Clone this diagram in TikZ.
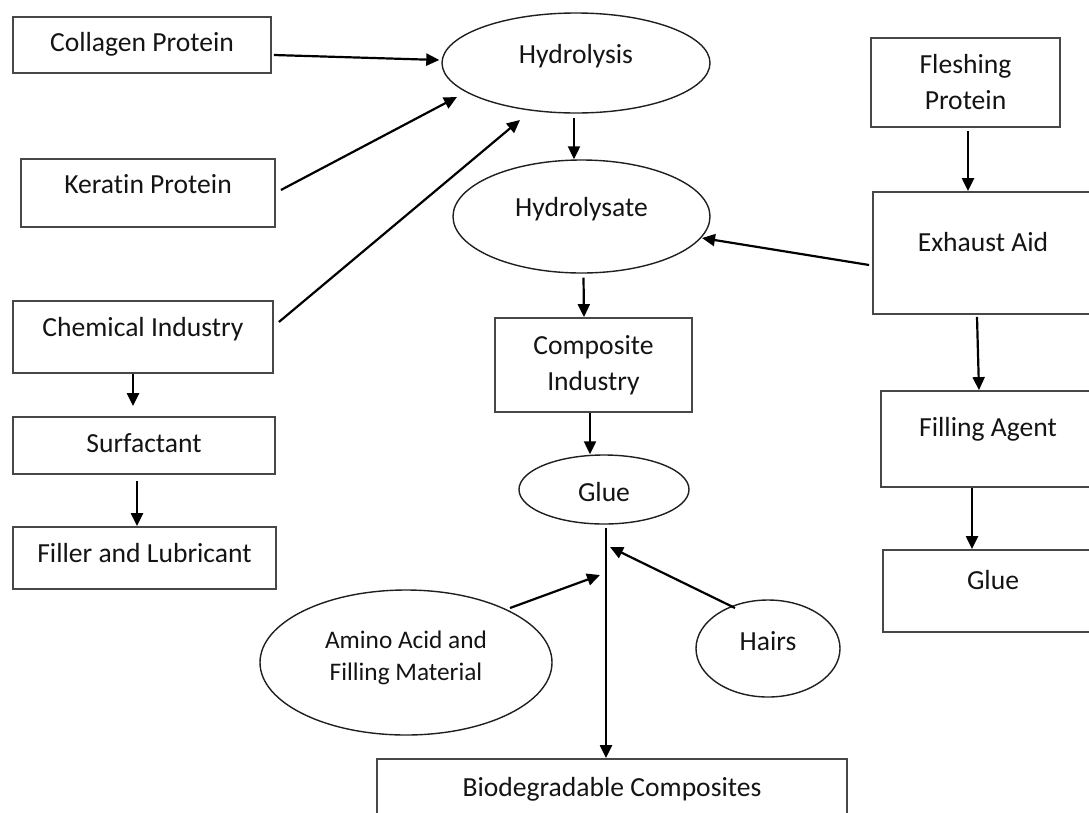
\documentclass[tikz,border=0pt]{standalone}
\usepackage{fontspec}
\setmainfont{Carlito}[Ligatures=NoCommon]
\usetikzlibrary{arrows.meta,calc,shapes.geometric}
\begin{document}
\begin{tikzpicture}[x=1pt,y=-1pt,
  every node/.style={font=\fontsize{27.6}{36}\selectfont, text=black!92, inner sep=0pt},
  box/.style={draw=black!72, line width=1.8pt, rectangle},
  oval/.style={draw=black!88, line width=1.4pt, ellipse},
  conn/.style={line width=2.2pt, draw=black, -{Triangle[length=13pt,width=12pt]}},
  tx/.style 2 args={text height=#1, text depth=#2},
]
\useasboundingbox (0,0) rectangle (1089,812);
\clip (0,0) rectangle (1089,812);

% left column
\node[box, minimum width=258, minimum height=56, tx={19pt}{6pt}] (col) at (142,45) {Collagen Protein};
\node[box, minimum width=254, minimum height=68, tx={19pt}{18pt}] (ker) at (148,193) {Keratin Protein};
\node[box, minimum width=260, minimum height=72, tx={19pt}{20pt}] (chem) at (143,337) {Chemical Industry};
\node[box, minimum width=262, minimum height=57, tx={19pt}{6pt}] (surf) at (144,445.5) {Surfactant};
\node[box, minimum width=263, minimum height=62, tx={19pt}{10pt}] (fill) at (144.5,558) {Filler and Lubricant};

% middle column
\node[oval, minimum width=268, minimum height=100, tx={19pt}{18pt}] (hyd) at (576,63) {Hydrolysis};
\node[oval, minimum width=257, minimum height=113, tx={19pt}{20pt}] (hydt) at (581.5,216.5) {Hydrolysate};
\node[box, minimum width=197, minimum height=94, align=center] (comp) at (593.5,365) {Composite\\Industry};
\node[oval, minimum width=170, minimum height=69, tx={29pt}{6pt}] (glue) at (604,489.5) {Glue};
\node[oval, minimum width=292, minimum height=145, font=\fontsize{25.3}{32}\selectfont] (amino) at (406,662.5)
  {\raisebox{4pt}[\height][\depth]{\begin{tabular}{@{}c@{}}Amino Acid and\\Filling Material\end{tabular}}};
\node[oval, minimum width=144, minimum height=97, tx={19pt}{16pt}] (hairs) at (768,648.5) {Hairs};
\node[box, minimum width=470, minimum height=64, tx={19pt}{8pt}] (bio) at (612,791) {Biodegradable Composites};

% right column
\node[box, minimum width=189, minimum height=89, align=center] (flesh) at (965.5,82.5) {Fleshing\\Protein};
\node[box, minimum width=220, minimum height=122, tx={19pt}{22pt}] (exh) at (983,253) {Exhaust Aid};
\node[box, minimum width=214, minimum height=96, tx={19pt}{24pt}] (filla) at (988,439) {Filling Agent};
\node[box, minimum width=220, minimum height=82, tx={19pt}{22pt}] (glueb) at (993,591) {Glue};

% junction points on the glue line
\coordinate (ja) at (600,575);
\coordinate (jh) at (610,547);

% connectors
\draw[conn] ($(col.east)+(2,10)$) -- ($(hyd.west)+(-2,-3)$);
\draw[conn] ($(ker.east)+(5,-3)$) -- ($(hyd.center)+(-119,34)$);
\draw[conn] ($(chem.east)+(5,-15)$) -- ($(hyd.center)+(-56,57)$);
\draw[conn] ($(hyd.south)+(-2,4)$) -- ($(hydt.north)+(-7.5,0)$);
\draw[conn] ($(hydt.south)+(2,4)$) -- ($(comp.north)+(-9.5,0)$);
\draw[conn] ($(comp.south)+(-3.5,0)$) -- ($(glue.north)+(-14,0)$);
\draw[conn] ($(glue.south)+(2,3)$) -- ($(bio.north)+(-6,0)$);
\draw[conn] ($(amino.center)+(104,-54.5)$) -- (ja);
\draw[conn] ($(hairs.center)+(-33,-40.5)$) -- (jh);
\draw[conn] ($(flesh.south)+(2.5,3)$) -- ($(exh.north)+(-15,0)$);
\draw[conn] ($(exh.west)+(-3,12)$) -- ($(hydt.center)+(120.5,21.5)$);
\draw[conn] ($(exh.south)+(-6,2)$) -- ($(filla.north)+(-9,0)$);
\draw[conn] ($(filla.south)+(-16,0)$) -- ($(glueb.north)+(-21,0)$);
\draw[conn] ($(chem.south)+(-10,0)$) -- ($(surf.north)+(-11,-10)$);
\draw[conn] ($(surf.south)+(-7,6)$) -- ($(fill.north)+(-7.5,0)$);
\end{tikzpicture}
\end{document}
